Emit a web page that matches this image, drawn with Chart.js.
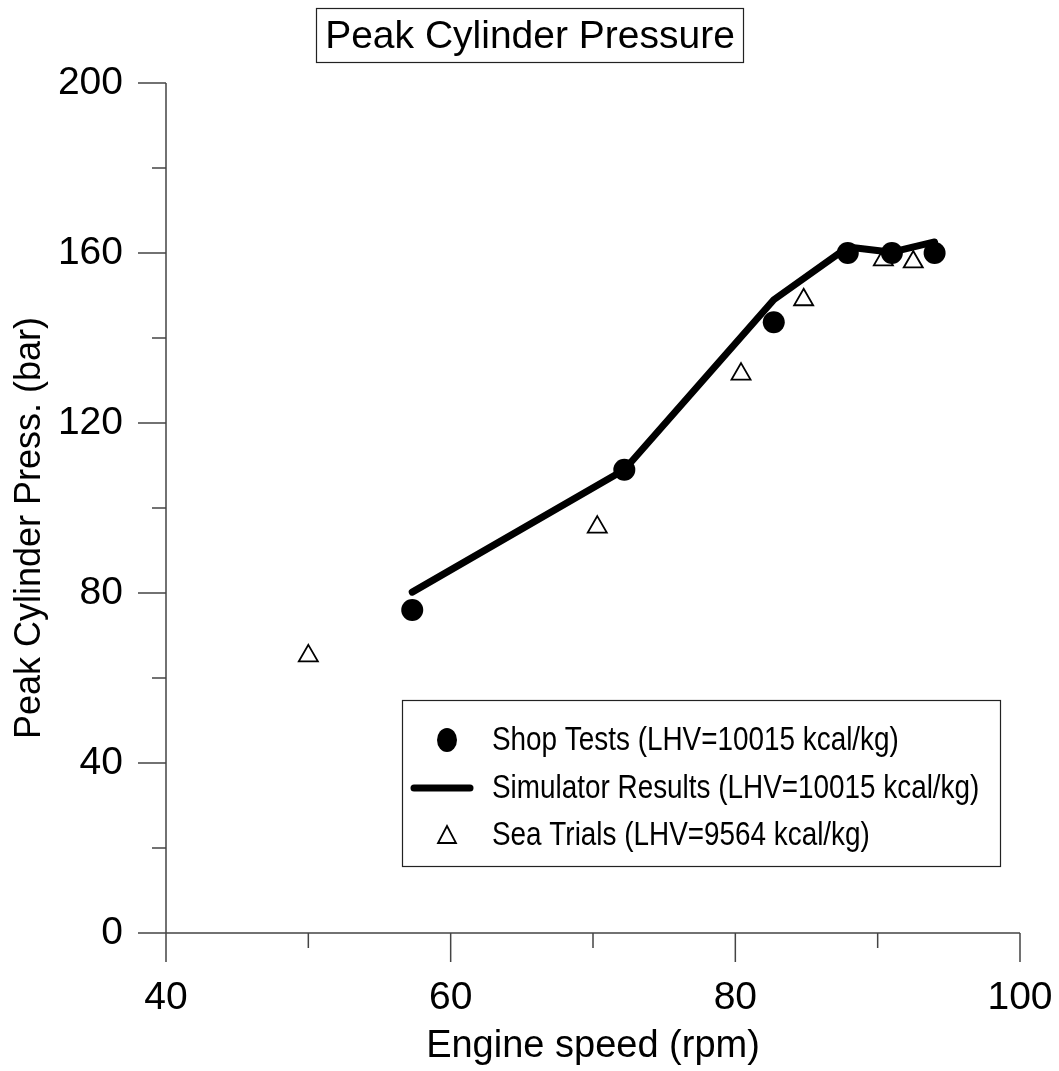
<!DOCTYPE html>
<html>
<head>
<meta charset="utf-8">
<script src="https://cdn.jsdelivr.net/npm/chart.js@4.4.0/dist/chart.umd.min.js"></script>
<style>
  html, body { margin: 0; padding: 0; background: #fff; }
  #wrap { width: 1059px; height: 1071px; }
</style>
</head>
<body>
<div id="wrap"><canvas id="chartPressure" width="1059" height="1071"></canvas></div>
<script>
// --- data ---
const shopSpeed = [57.3, 72.2, 82.7, 87.9, 91.0, 94.0];
const shopPress = [76.0, 109.0, 143.7, 160.0, 160.0, 160.0];

const simSpeed = [57.3, 72.2, 82.7, 87.9, 91.0, 94.0];
const simPress = [80.2, 109.0, 149.0, 161.4, 160.2, 162.6];

const seaSpeed = [50.0, 70.3, 80.4, 84.8, 90.4, 92.5];
const seaPress = [65.2, 95.5, 131.5, 149.0, 158.4, 157.9];

const xTicks = [40, 60, 80, 100];
const yTicks = [0, 40, 80, 120, 160, 200];

const chartTitle = 'Peak Cylinder Pressure';
const xTitle = 'Engine speed (rpm)';
const yTitle = 'Peak Cylinder Press. (bar)';
const seriesLabels = [
    'Shop Tests (LHV=10015 kcal/kg)',
    'Simulator Results (LHV=10015 kcal/kg)',
    'Sea Trials (LHV=9564 kcal/kg)'
];

const FONT = 'Liberation Sans, Arial, Helvetica, sans-serif';
const AXIS_COLOR = '#444';

function toPoints(xs, ys) {
    return xs.map((x, i) => ({ x: x, y: ys[i] }));
}

// axes + tick marks (major every label, minor in between)
const axesPlugin = {
    id: 'axesPlugin',
    afterDraw(chart) {
        const ctx = chart.ctx;
        const xs = chart.scales.x, ys = chart.scales.y;
        const left = chart.chartArea.left, bottom = chart.chartArea.bottom;
        ctx.save();
        ctx.strokeStyle = AXIS_COLOR;
        ctx.lineWidth = 1.5;
        ctx.beginPath();
        ctx.moveTo(left, ys.getPixelForValue(200));
        ctx.lineTo(left, bottom);
        ctx.moveTo(left, bottom);
        ctx.lineTo(xs.getPixelForValue(100), bottom);
        for (let v = 0; v <= 200; v += 20) {
            const py = ys.getPixelForValue(v);
            const len = (v % 40 === 0) ? 28 : 14;
            ctx.moveTo(left - len, py);
            ctx.lineTo(left, py);
        }
        for (let v = 40; v <= 100; v += 10) {
            const px = xs.getPixelForValue(v);
            const len = (v % 20 === 0) ? 29 : 15;
            ctx.moveTo(px, bottom);
            ctx.lineTo(px, bottom + len);
        }
        ctx.stroke();
        ctx.restore();
    }
};

// boxed title on top
const boxTitlePlugin = {
    id: 'boxTitlePlugin',
    afterDraw(chart) {
        const ctx = chart.ctx;
        ctx.save();
        ctx.font = '39px ' + FONT;
        ctx.fillStyle = '#000';
        ctx.textAlign = 'center';
        ctx.textBaseline = 'middle';
        ctx.fillText(chartTitle, 530, 37);
        ctx.strokeStyle = '#222';
        ctx.lineWidth = 1.2;
        ctx.strokeRect(316.5, 8.5, 427, 54);
        ctx.restore();
    }
};

// framed legend inside the plot
const boxLegendPlugin = {
    id: 'boxLegendPlugin',
    afterDraw(chart) {
        const ctx = chart.ctx;
        const bx = 402, by = 700, bw = 598, bh = 166;
        ctx.save();
        ctx.fillStyle = '#fff';
        ctx.fillRect(bx, by, bw, bh);
        ctx.strokeStyle = '#222';
        ctx.lineWidth = 1.2;
        ctx.strokeRect(bx + 0.5, by + 0.5, bw, bh);

        const rows = [740, 788, 835];
        // circle
        ctx.fillStyle = '#000';
        ctx.beginPath();
        ctx.ellipse(447, rows[0], 10, 12, 0, 0, Math.PI * 2);
        ctx.fill();
        // thick line
        ctx.strokeStyle = '#000';
        ctx.lineWidth = 7;
        ctx.lineCap = 'round';
        ctx.beginPath();
        ctx.moveTo(414, rows[1]);
        ctx.lineTo(470, rows[1]);
        ctx.stroke();
        // triangle
        ctx.lineWidth = 1.8;
        ctx.lineCap = 'butt';
        ctx.beginPath();
        ctx.moveTo(447, rows[2] - 9);
        ctx.lineTo(456, rows[2] + 8);
        ctx.lineTo(438, rows[2] + 8);
        ctx.closePath();
        ctx.stroke();

        const labels = chart.data.datasets.map(d => d.label);
        ctx.fillStyle = '#000';
        ctx.textAlign = 'left';
        ctx.textBaseline = 'middle';
        ctx.font = '34px ' + FONT;
        labels.forEach((t, i) => {
            ctx.save();
            ctx.translate(492, rows[i] + 1);
            ctx.scale(0.82, 1);
            ctx.fillText(t, 0, 0);
            ctx.restore();
        });
        ctx.restore();
    }
};

const ctx = document.getElementById('chartPressure').getContext('2d');
new Chart(ctx, {
    type: 'scatter',
    data: {
        datasets: [
            {
                label: seriesLabels[0],
                data: toPoints(shopSpeed, shopPress),
                pointStyle: 'circle',
                pointRadius: 11,
                backgroundColor: '#000',
                borderColor: '#000',
                borderWidth: 0,
                showLine: false
            },
            {
                label: seriesLabels[1],
                type: 'line',
                data: toPoints(simSpeed, simPress),
                borderColor: '#000',
                borderWidth: 7,
                borderCapStyle: 'round',
                borderJoinStyle: 'round',
                pointRadius: 0,
                tension: 0,
                fill: false
            },
            {
                label: seriesLabels[2],
                data: toPoints(seaSpeed, seaPress),
                pointStyle: 'triangle',
                pointRadius: 11,
                backgroundColor: '#fff',
                borderColor: '#000',
                borderWidth: 1.8,
                showLine: false
            }
        ]
    },
    options: {
        responsive: false,
        animation: false,
        layout: { padding: { top: 83, right: 39, left: 0, bottom: 0 } },
        plugins: {
            legend: { display: false },
            tooltip: { enabled: false },
            title: { display: false }
        },
        scales: {
            x: {
                type: 'linear',
                min: 40,
                max: 100,
                afterBuildTicks: (scale) => { scale.ticks = xTicks.map(v => ({ value: v })); },
                afterFit: (scale) => {
                    scale.height = 138;
                    scale.paddingLeft = 0;
                    scale.paddingRight = 0;
                },
                grid: { display: false, drawTicks: false },
                border: { display: false },
                ticks: {
                    color: '#000',
                    padding: 42,
                    font: { family: FONT, size: 39 }
                },
                title: {
                    display: true,
                    text: xTitle,
                    color: '#000',
                    font: { family: FONT, size: 38 },
                    padding: { top: 0, bottom: 2 }
                }
            },
            y: {
                type: 'linear',
                min: 0,
                max: 200,
                afterBuildTicks: (scale) => { scale.ticks = yTicks.map(v => ({ value: v })); },
                afterFit: (scale) => {
                    scale.width = 166;
                    scale.paddingTop = 0;
                    scale.paddingBottom = 0;
                },
                grid: { display: false, drawTicks: false },
                border: { display: false },
                ticks: {
                    color: '#000',
                    padding: 43,
                    font: { family: FONT, size: 39 }
                },
                title: {
                    display: true,
                    text: yTitle + '    ',
                    color: '#000',
                    font: { family: FONT, size: 36 },
                    padding: { top: 8, bottom: 0 }
                }
            }
        }
    },
    plugins: [axesPlugin, boxTitlePlugin, boxLegendPlugin]
});
</script>
</body>
</html>
